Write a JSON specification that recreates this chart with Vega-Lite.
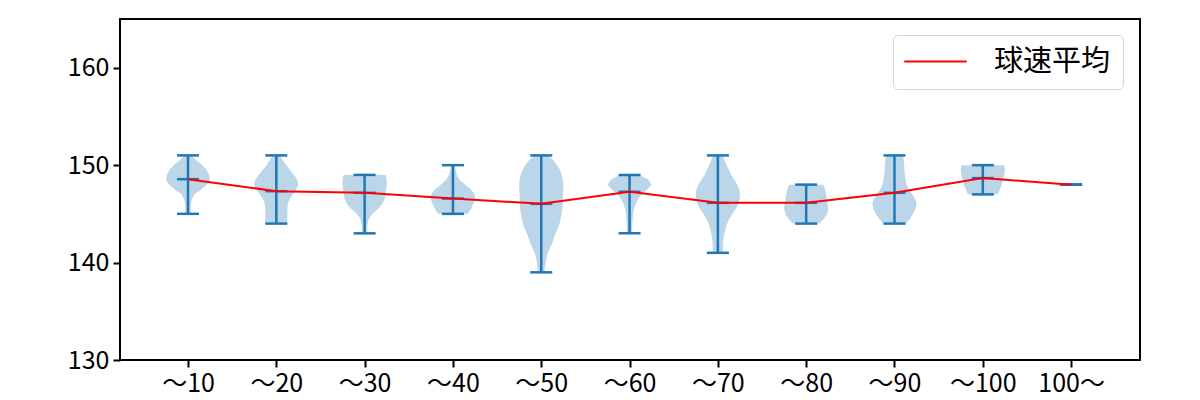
{
  "$schema": "https://vega.github.io/schema/vega-lite/v6.json",
  "width": 1020,
  "height": 341,
  "autosize": {"type": "none"},
  "padding": {"left": 120, "top": 19, "right": 60, "bottom": 40},
  "background": "white",
  "config": {
    "view": {"stroke": "#000", "strokeWidth": 2},
    "font": "Noto Sans CJK JP",
    "axis": {"grid": false, "domain": false, "tickColor": "#000", "tickWidth": 2, "tickSize": 7, "labelFont": "Noto Sans CJK JP", "labelFontSize": 25, "labelColor": "#000", "labelPadding": 4, "title": null}
  },
  "datasets": {
    "stats": [
      {"i": 1, "min": 145, "max": 151, "mean": 148.56},
      {"i": 2, "min": 144, "max": 151, "mean": 147.33},
      {"i": 3, "min": 143, "max": 149, "mean": 147.16},
      {"i": 4, "min": 145, "max": 150, "mean": 146.57},
      {"i": 5, "min": 139, "max": 151, "mean": 146.03},
      {"i": 6, "min": 143, "max": 149, "mean": 147.26},
      {"i": 7, "min": 141, "max": 151, "mean": 146.13},
      {"i": 8, "min": 144, "max": 148, "mean": 146.13},
      {"i": 9, "min": 144, "max": 151, "mean": 147.16},
      {"i": 10, "min": 147, "max": 150, "mean": 148.67},
      {"i": 11, "min": 148, "max": 148, "mean": 148.0}
    ],
    "violin": [
      {"i": 1, "v": 151, "r": 0.15}, {"i": 1, "v": 150.5, "r": 0.38}, {"i": 1, "v": 150, "r": 0.65}, {"i": 1, "v": 149.5, "r": 0.85}, {"i": 1, "v": 149, "r": 0.96}, {"i": 1, "v": 148.5, "r": 1.0}, {"i": 1, "v": 148, "r": 0.85}, {"i": 1, "v": 147.5, "r": 0.6}, {"i": 1, "v": 147, "r": 0.3}, {"i": 1, "v": 146.5, "r": 0.17}, {"i": 1, "v": 146, "r": 0.13}, {"i": 1, "v": 145.5, "r": 0.12}, {"i": 1, "v": 145, "r": 0.12},
      {"i": 2, "v": 151, "r": 0.15}, {"i": 2, "v": 150.5, "r": 0.3}, {"i": 2, "v": 150, "r": 0.45}, {"i": 2, "v": 149.5, "r": 0.62}, {"i": 2, "v": 149, "r": 0.8}, {"i": 2, "v": 148.5, "r": 0.95}, {"i": 2, "v": 148, "r": 1.0}, {"i": 2, "v": 147.5, "r": 0.9}, {"i": 2, "v": 147, "r": 0.75}, {"i": 2, "v": 146.5, "r": 0.6}, {"i": 2, "v": 146, "r": 0.52}, {"i": 2, "v": 145.5, "r": 0.5}, {"i": 2, "v": 145, "r": 0.5}, {"i": 2, "v": 144.5, "r": 0.5}, {"i": 2, "v": 144, "r": 0.5},
      {"i": 3, "v": 149, "r": 0.95}, {"i": 3, "v": 148.5, "r": 1.0}, {"i": 3, "v": 148, "r": 1.0}, {"i": 3, "v": 147.5, "r": 0.98}, {"i": 3, "v": 147, "r": 0.95}, {"i": 3, "v": 146.5, "r": 0.9}, {"i": 3, "v": 146, "r": 0.8}, {"i": 3, "v": 145.5, "r": 0.6}, {"i": 3, "v": 145, "r": 0.35}, {"i": 3, "v": 144.5, "r": 0.2}, {"i": 3, "v": 144, "r": 0.13}, {"i": 3, "v": 143.5, "r": 0.12}, {"i": 3, "v": 143, "r": 0.12},
      {"i": 4, "v": 150, "r": 0.08}, {"i": 4, "v": 149.5, "r": 0.12}, {"i": 4, "v": 149, "r": 0.18}, {"i": 4, "v": 148.5, "r": 0.3}, {"i": 4, "v": 148, "r": 0.55}, {"i": 4, "v": 147.5, "r": 0.82}, {"i": 4, "v": 147, "r": 0.98}, {"i": 4, "v": 146.5, "r": 1.0}, {"i": 4, "v": 146, "r": 0.92}, {"i": 4, "v": 145.5, "r": 0.82}, {"i": 4, "v": 145, "r": 0.68},
      {"i": 5, "v": 151, "r": 0.3}, {"i": 5, "v": 150.5, "r": 0.55}, {"i": 5, "v": 150, "r": 0.72}, {"i": 5, "v": 149.5, "r": 0.85}, {"i": 5, "v": 149, "r": 0.93}, {"i": 5, "v": 148.5, "r": 0.98}, {"i": 5, "v": 148, "r": 1.0}, {"i": 5, "v": 147.5, "r": 1.0}, {"i": 5, "v": 147, "r": 0.98}, {"i": 5, "v": 146.5, "r": 0.97}, {"i": 5, "v": 146, "r": 0.97}, {"i": 5, "v": 145.5, "r": 0.95}, {"i": 5, "v": 145, "r": 0.92}, {"i": 5, "v": 144.5, "r": 0.88}, {"i": 5, "v": 144, "r": 0.83}, {"i": 5, "v": 143.5, "r": 0.75}, {"i": 5, "v": 143, "r": 0.65}, {"i": 5, "v": 142.5, "r": 0.57}, {"i": 5, "v": 142, "r": 0.5}, {"i": 5, "v": 141.5, "r": 0.4}, {"i": 5, "v": 141, "r": 0.3}, {"i": 5, "v": 140.5, "r": 0.24}, {"i": 5, "v": 140, "r": 0.2}, {"i": 5, "v": 139.5, "r": 0.17}, {"i": 5, "v": 139, "r": 0.15},
      {"i": 6, "v": 149, "r": 0.45}, {"i": 6, "v": 148.5, "r": 0.85}, {"i": 6, "v": 148, "r": 1.0}, {"i": 6, "v": 147.5, "r": 0.8}, {"i": 6, "v": 147, "r": 0.55}, {"i": 6, "v": 146.5, "r": 0.38}, {"i": 6, "v": 146, "r": 0.27}, {"i": 6, "v": 145.5, "r": 0.2}, {"i": 6, "v": 145, "r": 0.16}, {"i": 6, "v": 144.5, "r": 0.14}, {"i": 6, "v": 144, "r": 0.12}, {"i": 6, "v": 143.5, "r": 0.12}, {"i": 6, "v": 143, "r": 0.12},
      {"i": 7, "v": 151, "r": 0.22}, {"i": 7, "v": 150.5, "r": 0.3}, {"i": 7, "v": 150, "r": 0.4}, {"i": 7, "v": 149.5, "r": 0.5}, {"i": 7, "v": 149, "r": 0.6}, {"i": 7, "v": 148.5, "r": 0.75}, {"i": 7, "v": 148, "r": 0.88}, {"i": 7, "v": 147.5, "r": 0.97}, {"i": 7, "v": 147, "r": 1.0}, {"i": 7, "v": 146.5, "r": 0.98}, {"i": 7, "v": 146, "r": 0.92}, {"i": 7, "v": 145.5, "r": 0.8}, {"i": 7, "v": 145, "r": 0.66}, {"i": 7, "v": 144.5, "r": 0.52}, {"i": 7, "v": 144, "r": 0.42}, {"i": 7, "v": 143.5, "r": 0.35}, {"i": 7, "v": 143, "r": 0.3}, {"i": 7, "v": 142.5, "r": 0.26}, {"i": 7, "v": 142, "r": 0.24}, {"i": 7, "v": 141.5, "r": 0.23}, {"i": 7, "v": 141, "r": 0.23},
      {"i": 8, "v": 148, "r": 0.77}, {"i": 8, "v": 147.5, "r": 0.85}, {"i": 8, "v": 147, "r": 0.9}, {"i": 8, "v": 146.5, "r": 0.93}, {"i": 8, "v": 146, "r": 0.98}, {"i": 8, "v": 145.5, "r": 1.0}, {"i": 8, "v": 145, "r": 0.95}, {"i": 8, "v": 144.5, "r": 0.8}, {"i": 8, "v": 144, "r": 0.6},
      {"i": 9, "v": 151, "r": 0.38}, {"i": 9, "v": 150.5, "r": 0.42}, {"i": 9, "v": 150, "r": 0.44}, {"i": 9, "v": 149.5, "r": 0.45}, {"i": 9, "v": 149, "r": 0.47}, {"i": 9, "v": 148.5, "r": 0.5}, {"i": 9, "v": 148, "r": 0.55}, {"i": 9, "v": 147.5, "r": 0.65}, {"i": 9, "v": 147, "r": 0.8}, {"i": 9, "v": 146.5, "r": 0.95}, {"i": 9, "v": 146, "r": 1.0}, {"i": 9, "v": 145.5, "r": 0.95}, {"i": 9, "v": 145, "r": 0.85}, {"i": 9, "v": 144.5, "r": 0.7}, {"i": 9, "v": 144, "r": 0.53},
      {"i": 10, "v": 150, "r": 0.97}, {"i": 10, "v": 149.5, "r": 1.0}, {"i": 10, "v": 149, "r": 0.97}, {"i": 10, "v": 148.5, "r": 0.92}, {"i": 10, "v": 148, "r": 0.85}, {"i": 10, "v": 147.5, "r": 0.77}, {"i": 10, "v": 147, "r": 0.68}
    ]
  },
  "layer": [
    {
      "data": {"name": "violin"},
      "transform": [
        {"calculate": "datum.i - 0.25 * datum.r", "as": "lo"},
        {"calculate": "datum.i + 0.25 * datum.r", "as": "hi"}
      ],
      "mark": {"type": "area", "orient": "horizontal", "color": "#1f77b4", "opacity": 0.3},
      "encoding": {
        "y": {"field": "v", "type": "quantitative", "scale": {"domain": [130, 165], "nice": false, "zero": false}, "axis": {"values": [130, 140, 150, 160]}},
        "x": {"field": "lo", "type": "quantitative", "scale": {"domain": [0.23, 11.78], "nice": false, "zero": false}, "axis": {"values": [1, 2, 3, 4, 5, 6, 7, 8, 9, 10, 11], "labelExpr": "['～10','～20','～30','～40','～50','～60','～70','～80','～90','～100','100～'][datum.value - 1]"}},
        "x2": {"field": "hi"},
        "detail": {"field": "i", "type": "nominal"}
      }
    },
    {
      "data": {"name": "stats"},
      "mark": {"type": "rule", "color": "#1f77b4", "strokeWidth": 2.5},
      "encoding": {
        "x": {"field": "i", "type": "quantitative", "scale": {"domain": [0.23, 11.78], "nice": false, "zero": false}},
        "y": {"field": "min", "type": "quantitative"},
        "y2": {"field": "max"}
      }
    },
    {
      "data": {"name": "stats"},
      "mark": {"type": "tick", "orient": "horizontal", "color": "#1f77b4", "size": 22, "thickness": 2.5, "opacity": 1},
      "encoding": {"x": {"field": "i", "type": "quantitative"}, "y": {"field": "min", "type": "quantitative"}}
    },
    {
      "data": {"name": "stats"},
      "mark": {"type": "tick", "orient": "horizontal", "color": "#1f77b4", "size": 22, "thickness": 2.5, "opacity": 1},
      "encoding": {"x": {"field": "i", "type": "quantitative"}, "y": {"field": "max", "type": "quantitative"}}
    },
    {
      "data": {"name": "stats"},
      "mark": {"type": "tick", "orient": "horizontal", "color": "#1f77b4", "size": 22, "thickness": 2.5, "opacity": 1},
      "encoding": {"x": {"field": "i", "type": "quantitative"}, "y": {"field": "mean", "type": "quantitative"}}
    },
    {
      "data": {"name": "stats"},
      "mark": {"type": "line", "strokeWidth": 2},
      "encoding": {
        "x": {"field": "i", "type": "quantitative"},
        "y": {"field": "mean", "type": "quantitative"},
        "color": {
          "datum": "球速平均",
          "scale": {"range": ["#ff0000"]},
          "legend": {
            "title": null, "orient": "none", "legendX": 773, "legendY": 16,
            "symbolType": "M-2.5,0H2.5", "symbolSize": 625, "symbolStrokeWidth": 2, "symbolOffset": 16,
            "labelFont": "Noto Sans CJK JP", "labelFontSize": 29, "labelColor": "#000", "labelOffset": 44,
            "padding": 12, "strokeColor": "#d6d6d6", "fillColor": "white", "cornerRadius": 5
          }
        }
      }
    }
  ]
}
